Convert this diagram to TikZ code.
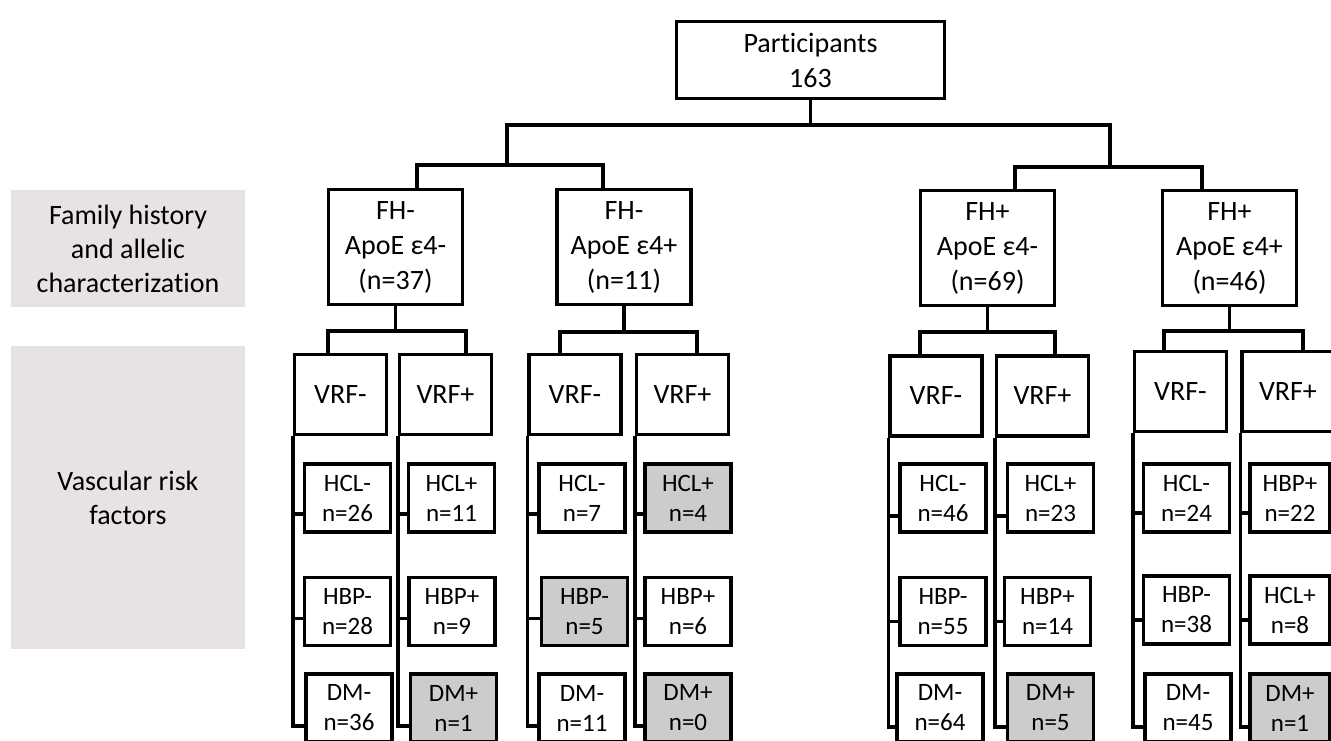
\documentclass[tikz,border=0pt]{standalone}
\usepackage{fontspec}
\setmainfont{Carlito}[Ligatures={NoCommon,NoContextual,NoRare}]
\usepackage{tikz}

\definecolor{panelgrey}{HTML}{E7E3E4}
\definecolor{hitgrey}{HTML}{CCCCCC}
\tikzset{
  wire/.style={line width=3.3pt, line join=miter},
  plainbox/.style={draw, line width=3.3pt, fill=white, inner sep=0pt, align=center,
    font=\fontsize{28}{35}\selectfont},
  fhbox/.style={plainbox, minimum width=134pt, minimum height=115pt},
  vrf/.style={plainbox, minimum width=92pt, minimum height=80pt},
  leaf/.style={plainbox, minimum width=86pt, minimum height=68pt,
    font=\fontsize{25}{30}\selectfont},
  hit/.style={leaf, fill=hitgrey},
  panel/.style={fill=panelgrey, inner sep=0pt, align=center,
    font=\fontsize{28}{34}\selectfont}
}

\begin{document}
\begin{tikzpicture}[x=1pt,y=-1pt]
\useasboundingbox (0,0) rectangle (1331,740);
\clip (0,0) rectangle (1331,740);

% row labels
\node[panel, minimum width=234pt, minimum height=117pt] (famlab) at (128,248.5)
  {Family history\\and allelic\\characterizat\kern0pt ion};
\node[panel, minimum width=234pt, minimum height=303pt] (vaslab) at (128,497.5)
  {Vascular risk\\factors};

% top and groups
\node[plainbox, minimum width=268pt, minimum height=77pt] (top) at (810.5,60) {Participants\\163};
\node[fhbox] (fhA) at (395.5,247) {FH-\\ApoE ε4-\\(n=37)};
\node[fhbox] (fhB) at (624,247) {FH-\\ApoE ε4+\\(n=11)};
\node[fhbox] (fhC) at (987.5,248) {FH+\\ApoE ε4-\\(n=69)};
\node[fhbox] (fhD) at (1229.5,248) {FH+\\ApoE ε4+\\(n=46)};

% vascular risk boxes
\node[vrf] (vA1) at (340.5,394.5) {VRF-};
\node[vrf] (vA2) at (445.5,394.5) {VRF+};
\node[vrf] (vB1) at (575,394.5) {VRF-};
\node[vrf] (vB2) at (682.5,394.5) {VRF+};
\node[vrf] (vC1) at (936,396) {VRF-};
\node[vrf] (vC2) at (1042.5,396) {VRF+};
\node[vrf] (vD1) at (1180.5,391.5) {VRF-};
\node[vrf] (vD2) at (1288,391.5) {VRF+};

% leaves
\node[leaf] (lA1a) at (347.5,498) {HCL-\\n=26};
\node[leaf] (lA1b) at (347.5,611.5) {HBP-\\n=28};
\node[leaf] (lA1c) at (349,708) {DM-\\n=36};
\node[leaf] (lA2a) at (451.5,498) {HCL+\\n=11};
\node[leaf] (lA2b) at (452,611.5) {HBP+\\n=9};
\node[hit]  (lA2c) at (453.5,708) {DM+\\n=1};

\node[leaf] (lB1a) at (582,498) {HCL-\\n=7};
\node[hit]  (lB1b) at (584.5,611.5) {HBP-\\n=5};
\node[leaf] (lB1c) at (582,708) {DM-\\n=11};
\node[hit]  (lB2a) at (688,498) {HCL+\\n=4};
\node[leaf] (lB2b) at (688,611.5) {HBP+\\n=6};
\node[hit]  (lB2c) at (688,708) {DM+\\n=0};

\node[leaf] (lC1a) at (943,498) {HCL-\\n=46};
\node[leaf] (lC1b) at (943,611.5) {HBP-\\n=55};
\node[leaf] (lC1c) at (940,708) {DM-\\n=64};
\node[leaf] (lC2a) at (1050.5,498) {HCL+\\n=23};
\node[leaf] (lC2b) at (1047.5,611.5) {HBP+\\n=14};
\node[hit]  (lC2c) at (1050.5,708) {DM+\\n=5};

\node[leaf] (lD1a) at (1186.5,498) {HCL-\\n=24};
\node[leaf] (lD1b) at (1186.5,610) {HBP-\\n=38};
\node[leaf] (lD1c) at (1188,708) {DM-\\n=45};
\node[leaf, minimum width=80pt] (lD2a) at (1290,498) {HBP+\\n=22};
\node[leaf, minimum width=80pt] (lD2b) at (1290,610) {HCL+\\n=8};
\node[hit, minimum width=80pt]  (lD2c) at (1290,708) {DM+\\n=1};

% forks
\coordinate (busL) at (507,125);
\coordinate (busR) at (1110,125);
\coordinate (forkA) at (417,165);
\coordinate (forkB) at (603,165);
\coordinate (forkC) at (1015,167);
\coordinate (forkD) at (1202,167);
\coordinate (forkA1) at (328,331);
\coordinate (forkA2) at (466,331);
\coordinate (forkB1) at (560,332);
\coordinate (forkB2) at (697,332);
\coordinate (forkC1) at (920,332);
\coordinate (forkC2) at (1055,332);
\coordinate (forkD1) at (1164,331);
\coordinate (forkD2) at (1303,331);

\draw[wire] (top.south) -- (top.south |- busL);
\draw[wire] (busL |- forkA) -- (busL) -- (busR) -- (busR |- forkC);
\draw[wire] (forkA |- fhA.north) -- (forkA) -- (forkB) -- (forkB |- fhB.north);
\draw[wire] (forkC |- fhC.north) -- (forkC) -- (forkD) -- (forkD |- fhD.north);

\draw[wire] (fhA.south) -- (fhA.south |- forkA1);
\draw[wire] (forkA1 |- vA1.north) -- (forkA1) -- (forkA2) -- (forkA2 |- vA2.north);
\draw[wire] (fhB.south) -- (fhB.south |- forkB1);
\draw[wire] (forkB1 |- vB1.north) -- (forkB1) -- (forkB2) -- (forkB2 |- vB2.north);
\draw[wire] (fhC.south) -- (fhC.south |- forkC1);
\draw[wire] (forkC1 |- vC1.north) -- (forkC1) -- (forkC2) -- (forkC2 |- vC2.north);
\draw[wire] (fhD.south) -- (fhD.south |- forkD1);
\draw[wire] (forkD1 |- vD1.north) -- (forkD1) -- (forkD2) -- (forkD2 |- vD2.north);

% trunks to the leaves
\draw[wire] (vA1.south west) |- ([yshift=-16pt]lA1a.west);
\draw[wire] (vA1.south west) |- ([yshift=-7pt]lA1b.west);
\draw[wire] (vA1.south west) |- ([yshift=-18pt]lA1c.west);
\draw[wire] (vA2.south west) |- ([yshift=-16pt]lA2a.west);
\draw[wire] (vA2.south west) |- ([yshift=-7pt]lA2b.west);
\draw[wire] (vA2.south west) |- ([yshift=-18pt]lA2c.west);
\draw[wire] (vB1.south west) |- ([yshift=-16pt]lB1a.west);
\draw[wire] (vB1.south west) |- ([yshift=-7pt]lB1b.west);
\draw[wire] (vB1.south west) |- ([yshift=-18pt]lB1c.west);
\draw[wire] (vB2.south west) |- ([yshift=-16pt]lB2a.west);
\draw[wire] (vB2.south west) |- ([yshift=-7pt]lB2b.west);
\draw[wire] (vB2.south west) |- ([yshift=-18pt]lB2c.west);
\draw[wire] (vC1.south west) |- ([yshift=-18pt]lC1a.west);
\draw[wire] (vC1.south west) |- ([yshift=-10pt]lC1b.west);
\draw[wire] (vC1.south west) |- ([yshift=-19pt]lC1c.west);
\draw[wire] (vC2.south west) |- ([yshift=-18pt]lC2a.west);
\draw[wire] (vC2.south west) |- ([yshift=-10pt]lC2b.west);
\draw[wire] (vC2.south west) |- ([yshift=-19pt]lC2c.west);
\draw[wire] (vD1.south west) |- ([yshift=-15pt]lD1a.west);
\draw[wire] (vD1.south west) |- ([yshift=-10pt]lD1b.west);
\draw[wire] (vD1.south west) |- ([yshift=-19pt]lD1c.west);
\draw[wire] (vD2.south west) |- ([yshift=-15pt]lD2a.west);
\draw[wire] (vD2.south west) |- ([yshift=-10pt]lD2b.west);
\draw[wire] (vD2.south west) |- ([yshift=-19pt]lD2c.west);
\end{tikzpicture}
\end{document}
